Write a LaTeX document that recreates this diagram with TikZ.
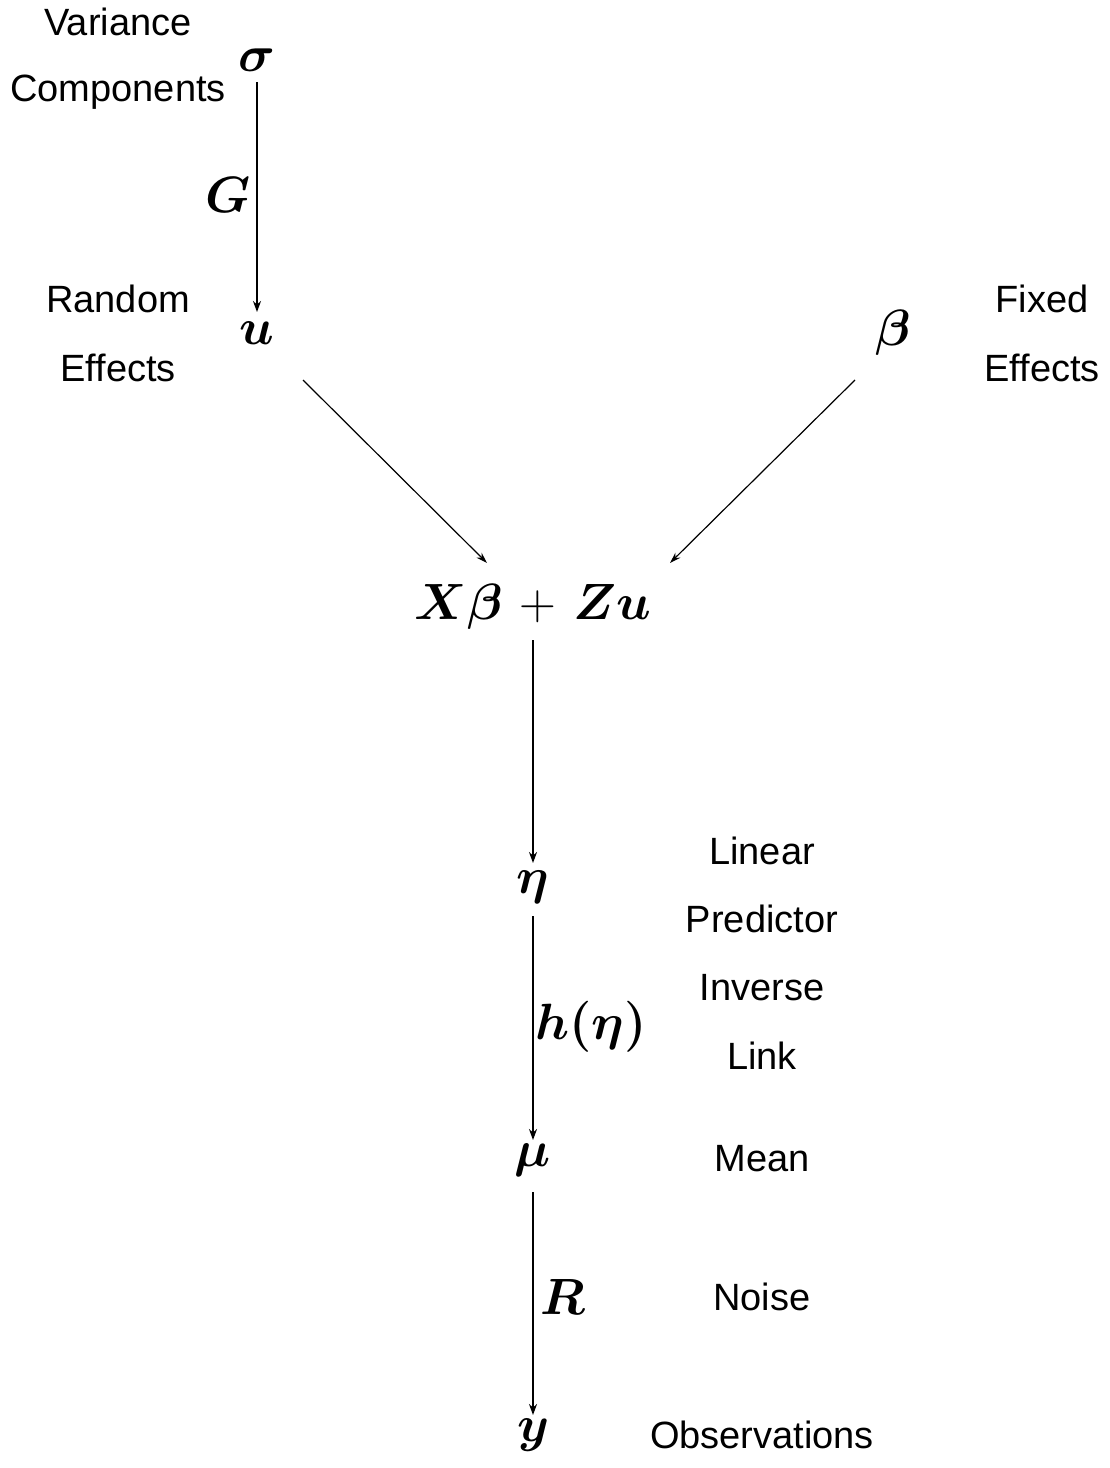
\RequirePackage{fix-cm}
\documentclass[tikz,border=0pt]{standalone}
\usepackage{amsmath,amssymb,bm}
\usepackage{fontspec}
\setmainfont{Liberation Sans}
\usetikzlibrary{arrows.meta}
\tikzset{
  mathnode/.style={inner sep=0pt, font=\fontsize{51}{58}\selectfont},
  txt/.style={inner sep=0pt, font=\fontsize{38}{44}\selectfont},
  thickarr/.style={line width=2.8pt, -{Stealth[length=11pt,width=8pt]}},
  thinarr/.style={line width=1.2pt, -{Stealth[length=11pt,width=7pt]}}
}
\begin{document}
\begin{tikzpicture}[x=1pt,y=-1pt]
\useasboundingbox (0,0) rectangle (1110,1468);
% math nodes
\node[mathnode] (sigma) at (257,60) {$\bm{\sigma}$};
\node[mathnode] (u) at (257,333) {$\bm{u}$};
\node[mathnode] (beta) at (893,333) {$\bm{\beta}$};
\node[mathnode] (lin) at (533,607) {$\bm{X}\bm{\beta}\mskip2mu+\mskip2mu\bm{Z}\bm{u}$};
\node[mathnode] (eta) at (533,887) {$\bm{\eta}$};
\node[mathnode] (mu) at (533,1160) {$\bm{\mu}$};
\node[mathnode] (y) at (533,1435) {$\bm{y}$};
% edge labels
\node[mathnode] (G) at (228,195) {$\bm{G}$};
\node[mathnode] (h) at (591,1027) {$\bm{h(\eta)}$};
\node[mathnode] (R) at (563,1297) {$\bm{R}$};
% text labels
\node[txt] (t1) at (118,22) {Variance};
\node[txt] (t2) at (118,92) {Components};
\node[txt] (t3) at (118,299) {Random};
\node[txt] (t4) at (118,368) {Effects};
\node[txt] (t5) at (1042,299) {Fixed};
\node[txt] (t6) at (1042,368) {Effects};
\node[txt] (t7) at (762,851) {Linear};
\node[txt] (t8) at (762,919) {Predictor};
\node[txt] (t9) at (762,988) {Inverse};
\node[txt] (t10) at (762,1056) {Link};
\node[txt] (t11) at (762,1159) {Mean};
\node[txt] (t12) at (762,1297) {Noise};
\node[txt] (t13) at (762,1435) {Observations};
% connectors
\draw[thickarr, shorten <=22pt, shorten >=21pt] (sigma.center) -- (u.center);
\draw[thickarr, shorten <=33pt, shorten >=24pt] (lin.center) -- (eta.center);
\draw[thickarr, shorten <=29pt, shorten >=20pt] (eta.center) -- (mu.center);
\draw[thickarr, shorten <=32pt, shorten >=20pt] (mu.center) -- (y.center);
\draw[thinarr] ([shift={(46,47)}]u.center) -- ([shift={(-46,-44)}]lin.center);
\draw[thinarr] ([shift={(-38,47)}]beta.center) -- ([shift={(137,-44)}]lin.center);
\end{tikzpicture}
\end{document}
